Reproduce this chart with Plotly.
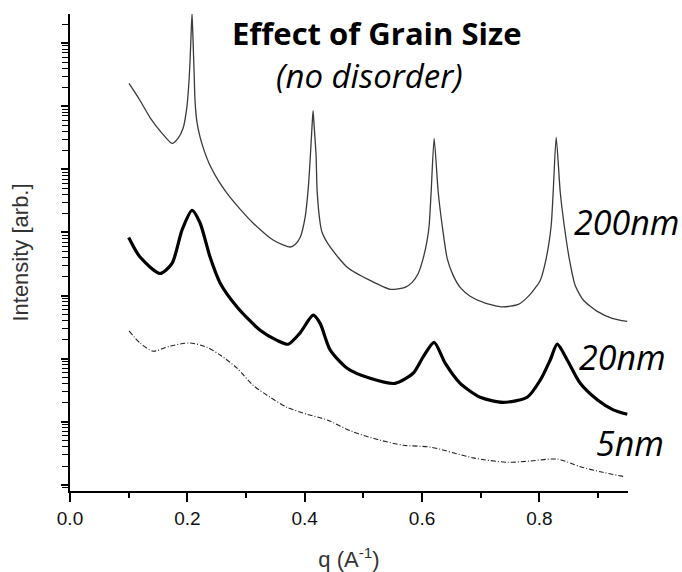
import numpy as np
import plotly.graph_objects as go

# ---- data (q in 1/A, log10 of intensity in arb. units) ----
q_200nm = [0.1006, 0.1194, 0.1364, 0.1569, 0.1739, 0.1841, 0.1927, 0.1995, 0.2029, 0.2046, 0.2063, 0.2080,
           0.2097, 0.2114, 0.2131, 0.2165, 0.2217, 0.2285, 0.2387, 0.2523, 0.2677, 0.2899, 0.3120,
           0.3461, 0.3640, 0.3750, 0.3836, 0.3922, 0.4007, 0.4058, 0.4092, 0.4126, 0.4143,
           0.4160, 0.4194, 0.4211, 0.4263, 0.4297, 0.4433, 0.4723, 0.5115, 0.5456, 0.5712,
           0.5831, 0.5934, 0.6019, 0.6087, 0.6121, 0.6155, 0.6206,
           0.6275, 0.6343, 0.6428, 0.6530, 0.6650, 0.6820, 0.7076, 0.7366, 0.7639, 0.7843,
           0.8014, 0.8116, 0.8201, 0.8235, 0.8286,
           0.8355, 0.8423, 0.8508, 0.8610, 0.8747, 0.8986, 0.9241, 0.9497]
logI_200nm = [6.36, 6.09, 5.82, 5.57, 5.41, 5.49, 5.65, 6.01, 6.41, 6.72, 7.12, 7.47,
              7.04, 6.57, 6.08, 5.74, 5.51, 5.30, 5.06, 4.83, 4.62, 4.37, 4.15,
              3.88, 3.80, 3.77, 3.81, 3.92, 4.24, 4.67, 5.14, 5.70, 5.93,
              5.70, 5.22, 4.67, 4.15, 4.00, 3.77, 3.45, 3.24, 3.10, 3.13,
              3.21, 3.35, 3.59, 3.88, 4.11, 4.64, 5.49,
              4.64, 4.11, 3.59, 3.32, 3.13, 2.99, 2.88, 2.82, 2.86, 3.02,
              3.24, 3.59, 4.11, 4.64, 5.51,
              4.64, 4.11, 3.59, 3.16, 2.93, 2.75, 2.64, 2.59]

q_20nm = [0.100, 0.1194, 0.1535, 0.1739, 0.191, 0.208, 0.2217, 0.2387, 0.2558, 0.2847, 0.324,
          0.3529, 0.3717, 0.3922, 0.4143, 0.4263, 0.4433, 0.4723, 0.5115, 0.5541, 0.5848, 0.6019,
          0.6206, 0.6394, 0.665, 0.6991, 0.7383, 0.7792, 0.8014, 0.8184, 0.8304, 0.8474, 0.8696,
          0.8986, 0.9258, 0.9497]
logI_20nm = [3.92, 3.61, 3.35, 3.51, 4.04, 4.35, 4.15, 3.61, 3.20, 2.82, 2.45,
             2.29, 2.23, 2.41, 2.69, 2.56, 2.14, 1.85, 1.69, 1.61, 1.77, 2.03,
             2.26, 1.93, 1.61, 1.39, 1.31, 1.39, 1.66, 1.98, 2.23, 1.98, 1.61,
             1.35, 1.19, 1.12]

q_5nm = [0.1006, 0.1194, 0.1415, 0.1705, 0.2046, 0.2336, 0.2558, 0.2847, 0.312, 0.341, 0.37,
         0.4041, 0.4382, 0.4825, 0.5286, 0.5678, 0.6138, 0.6871, 0.7451, 0.7843, 0.8303, 0.8696,
         0.9037, 0.9463]
logI_5nm = [2.44, 2.25, 2.12, 2.20, 2.25, 2.18, 2.06, 1.85, 1.58, 1.39, 1.23,
            1.12, 1.03, 0.84, 0.71, 0.63, 0.60, 0.43, 0.36, 0.38, 0.41, 0.29,
            0.21, 0.13]

x_tick_vals = [0.0, 0.2, 0.4, 0.6, 0.8]
x_tick_text = ["0.0", "0.2", "0.4", "0.6", "0.8"]
series_labels = ["200nm", "20nm", "5nm"]

fig = go.Figure()
fig.add_trace(go.Scatter(x=q_200nm, y=np.power(10.0, logI_200nm), mode="lines",
                         line=dict(color="#3a3a3a", width=1.3, shape="spline", smoothing=0.6),
                         name=series_labels[0]))
fig.add_trace(go.Scatter(x=q_20nm, y=np.power(10.0, logI_20nm), mode="lines",
                         line=dict(color="black", width=3.2, shape="spline", smoothing=0.7),
                         name=series_labels[1]))
fig.add_trace(go.Scatter(x=q_5nm, y=np.power(10.0, logI_5nm), mode="lines",
                         line=dict(color="#222222", width=1.1, dash="5px,2px,1px,2px",
                                   shape="spline", smoothing=0.8),
                         name=series_labels[2]))

label_font = dict(family="Open Sans", size=34, color="black")
fig.add_annotation(x=0.997, y=0.564, xref="paper", yref="paper", text="<i>200nm</i>",
                   showarrow=False, font=label_font, xanchor="center", yanchor="middle")
fig.add_annotation(x=0.991, y=0.281, xref="paper", yref="paper", text="<i>20nm</i>",
                   showarrow=False, font=label_font, xanchor="center", yanchor="middle")
fig.add_annotation(x=1.003, y=0.101, xref="paper", yref="paper", text="<i>5nm</i>",
                   showarrow=False, font=label_font, xanchor="center", yanchor="middle")
fig.add_annotation(x=0.550, y=0.960, xref="paper", yref="paper", text="<b>Effect of Grain Size</b>",
                   showarrow=False, font=dict(family="Open Sans", size=31, color="black"),
                   xanchor="center", yanchor="middle")
fig.add_annotation(x=0.536, y=0.872, xref="paper", yref="paper", text="<i>(no disorder)</i>",
                   showarrow=False, font=dict(family="Open Sans", size=33, color="black"),
                   xanchor="center", yanchor="middle")

fig.update_layout(
    width=682, height=572,
    margin=dict(l=70, r=54, t=14, b=81),
    paper_bgcolor="white", plot_bgcolor="white",
    showlegend=False,
    font=dict(family="Liberation Sans, Arial", color="#111111"),
    xaxis=dict(range=[0, 0.951], tickvals=x_tick_vals, ticktext=x_tick_text,
               automargin=False,
               ticks="outside", ticklen=9, tickwidth=1.5, tickcolor="black",
               showline=True, linewidth=2, linecolor="black",
               showgrid=False, zeroline=False,
               tickfont=dict(size=19, color="#111111"),
               minor=dict(ticks="outside", dtick=0.1, tick0=0, ticklen=5, tickwidth=1.5,
                          tickcolor="black", showgrid=False),
               title=dict(text="q (A<sup>-1</sup>)", font=dict(size=22, color="#333333"), standoff=24)),
    yaxis=dict(type="log", range=[-0.095, 7.46], dtick=1, tick0=0,
               automargin=False,
               ticks="outside", ticklen=7, tickwidth=1.5, tickcolor="black",
               showticklabels=False,
               showline=True, linewidth=2, linecolor="black",
               showgrid=False, zeroline=False,
               minor=dict(ticks="outside", dtick="D1", ticklen=6, tickwidth=1.2,
                          tickcolor="black", showgrid=False),
               title=dict(text="Intensity [arb.]", font=dict(size=22, color="#333333"), standoff=26)),
)

fig.write_html("out.html")
